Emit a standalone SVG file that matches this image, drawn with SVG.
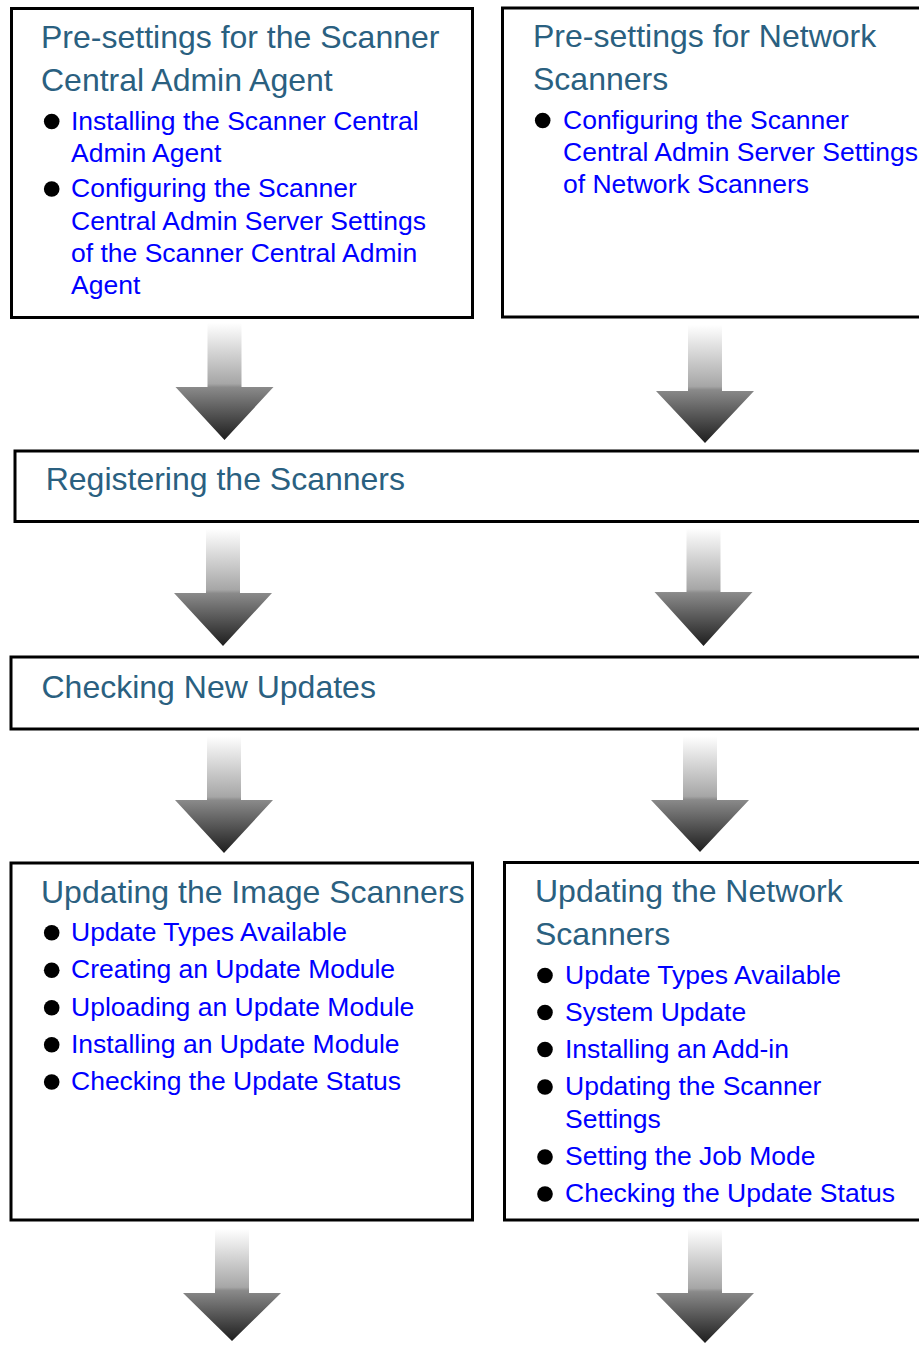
<svg xmlns="http://www.w3.org/2000/svg" width="919" height="1346" viewBox="0 0 919 1346">
<defs>
<linearGradient id="ag" x1="0" y1="0" x2="0" y2="1">
<stop offset="0" stop-color="#ffffff"/>
<stop offset="0.52" stop-color="#a6a6a6"/>
<stop offset="0.55" stop-color="#8a8a8a"/>
<stop offset="1" stop-color="#1e1e1e"/>
</linearGradient>
<style>
.box{fill:#ffffff;stroke:#000;stroke-width:3}
.t{font-family:"Liberation Sans",Arial,sans-serif;font-size:32px;fill:#2a6080}
.b{font-family:"Liberation Sans",Arial,sans-serif;font-size:26.5px;fill:#0000ff}
.dot{fill:#000}
.arr{fill:url(#ag)}
</style>
</defs>
<rect width="919" height="1346" fill="#fff"/>

<g id="connectors">
<path class="arr" d="M207.5,323 H241.5 V387 H273.5 L224.5,440 L175.5,387 H207.5 Z"/>
<path class="arr" d="M688,325 H722 V391 H754 L705,443 L656,391 H688 Z"/>
<path class="arr" d="M206,529 H240 V593 H272 L223,646 L174,593 H206 Z"/>
<path class="arr" d="M686.5,528 H720.5 V592 H752.5 L703.5,646 L654.5,592 H686.5 Z"/>
<path class="arr" d="M207,736 H241 V800 H273 L224,853 L175,800 H207 Z"/>
<path class="arr" d="M683,736 H717 V800 H749 L700,852 L651,800 H683 Z"/>
<path class="arr" d="M215,1229 H249 V1293 H281 L232,1341 L183,1293 H215 Z"/>
<path class="arr" d="M688,1229 H722 V1293 H754 L705,1343 L656,1293 H688 Z"/>
</g>

<g id="presettings-agent">
<rect class="box" x="11.5" y="8.5" width="461" height="309"/>
<text class="t" x="41" y="48">Pre-settings for the Scanner</text>
<text class="t" x="41" y="90.5">Central Admin Agent</text>
<circle class="dot" cx="51.7" cy="121.5" r="7.8"/>
<text class="b" x="71" y="129.5">Installing the Scanner Central</text>
<text class="b" x="71" y="161.5">Admin Agent</text>
<circle class="dot" cx="51.7" cy="189" r="7.8"/>
<text class="b" x="71" y="197">Configuring the Scanner</text>
<text class="b" x="71" y="229.5">Central Admin Server Settings</text>
<text class="b" x="71" y="262">of the Scanner Central Admin</text>
<text class="b" x="71" y="294">Agent</text>
</g>

<g id="presettings-network">
<rect class="box" x="502.5" y="8" width="430" height="309"/>
<text class="t" x="533" y="46.7">Pre-settings for Network</text>
<text class="t" x="533" y="90">Scanners</text>
<circle class="dot" cx="542.7" cy="120.5" r="7.8"/>
<text class="b" x="563" y="128.5">Configuring the Scanner</text>
<text class="b" x="563" y="160.5">Central Admin Server Settings</text>
<text class="b" x="563" y="192.5">of Network Scanners</text>
</g>

<g id="registering">
<rect class="box" x="15" y="451" width="915" height="70.5"/>
<text class="t" x="45.7" y="490">Registering the Scanners</text>
</g>

<g id="checking">
<rect class="box" x="11" y="657" width="920" height="72"/>
<text class="t" x="41.5" y="697.5">Checking New Updates</text>
</g>

<g id="updating-image">
<rect class="box" x="11" y="863" width="461.5" height="357"/>
<text class="t" x="41" y="902.7">Updating the Image Scanners</text>
<circle class="dot" cx="51.7" cy="932.7" r="7.8"/>
<text class="b" x="71" y="940.7">Update Types Available</text>
<circle class="dot" cx="51.7" cy="970.3" r="7.8"/>
<text class="b" x="71" y="978.3">Creating an Update Module</text>
<circle class="dot" cx="51.7" cy="1007.7" r="7.8"/>
<text class="b" x="71" y="1015.7">Uploading an Update Module</text>
<circle class="dot" cx="51.7" cy="1044.7" r="7.8"/>
<text class="b" x="71" y="1052.7">Installing an Update Module</text>
<circle class="dot" cx="51.7" cy="1082" r="7.8"/>
<text class="b" x="71" y="1090">Checking the Update Status</text>
</g>

<g id="updating-network">
<rect class="box" x="504.5" y="862.5" width="430" height="357.5"/>
<text class="t" x="535" y="901.7">Updating the Network</text>
<text class="t" x="535" y="945">Scanners</text>
<circle class="dot" cx="545" cy="975.5" r="7.8"/>
<text class="b" x="565" y="983.5">Update Types Available</text>
<circle class="dot" cx="545" cy="1012.5" r="7.8"/>
<text class="b" x="565" y="1020.5">System Update</text>
<circle class="dot" cx="545" cy="1049.5" r="7.8"/>
<text class="b" x="565" y="1057.5">Installing an Add-in</text>
<circle class="dot" cx="545" cy="1087" r="7.8"/>
<text class="b" x="565" y="1095">Updating the Scanner</text>
<text class="b" x="565" y="1128">Settings</text>
<circle class="dot" cx="545" cy="1157" r="7.8"/>
<text class="b" x="565" y="1165">Setting the Job Mode</text>
<circle class="dot" cx="545" cy="1194" r="7.8"/>
<text class="b" x="565" y="1202">Checking the Update Status</text>
</g>
</svg>
